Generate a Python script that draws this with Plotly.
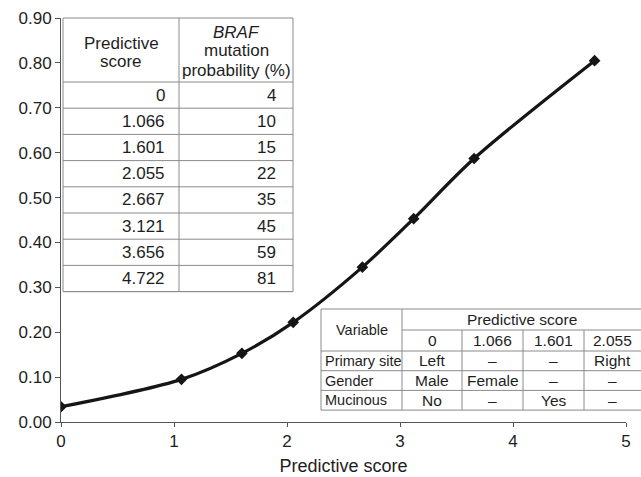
import plotly.graph_objects as go

# ---------------- data ----------------
scores = [0, 1.066, 1.601, 2.055, 2.667, 3.121, 3.656, 4.722]
probs = [0.034, 0.095, 0.153, 0.222, 0.345, 0.453, 0.587, 0.805]

score_labels = ["0", "1.066", "1.601", "2.055", "2.667", "3.121", "3.656", "4.722"]
prob_pct = ["4", "10", "15", "22", "35", "45", "59", "81"]

var_names = ["Primary site", "Gender", "Mucinous"]
var_cols = ["0", "1.066", "1.601", "2.055"]
var_cells = [["Left", "–", "–", "Right"],
             ["Male", "Female", "–", "–"],
             ["No", "–", "Yes", "–"]]

x_ticks = [0, 1, 2, 3, 4, 5]
y_ticks = [0.0, 0.1, 0.2, 0.3, 0.4, 0.5, 0.6, 0.7, 0.8, 0.9]

# ---------------- layout constants ----------------
W, H = 641, 477
PL, PR, PT, PB = 61, 626, 18, 422  # plot area in pixels
ML, MT, MR, MB = PL, PT, W - PR, H - PB
PW, PH = PR - PL, PB - PT
FONT = "Liberation Sans, Arial, sans-serif"
TXT = "#1e1e1e"
GRID = "#8a8a8a"


def px(x):
    return (x - PL) / PW


def py(y):
    return (PB - y) / PH


shapes = []
annotations = []


def hline(x0, x1, y):
    shapes.append(dict(type="line", xref="paper", yref="paper",
                       x0=px(x0), x1=px(x1), y0=py(y), y1=py(y),
                       line=dict(color=GRID, width=1)))


def vline(x, y0, y1):
    shapes.append(dict(type="line", xref="paper", yref="paper",
                       x0=px(x), x1=px(x), y0=py(y0), y1=py(y1),
                       line=dict(color=GRID, width=1)))


def text(s, x, y, size, xanchor="center"):
    annotations.append(dict(text=s, xref="paper", yref="paper",
                            x=px(x), y=py(y), xanchor=xanchor, yanchor="middle",
                            showarrow=False, font=dict(family=FONT, size=size, color=TXT)))


# ---- top-left table ----
t1_left, t1_mid, t1_right = 63, 179, 293
t1_top, t1_head = 18, 82
t1_row = 26.2
n1 = len(score_labels)
t1_bottom = t1_head + n1 * t1_row
shapes.append(dict(type="rect", xref="paper", yref="paper",
                   x0=px(t1_left), x1=px(t1_right), y0=py(t1_bottom), y1=py(t1_top),
                   fillcolor="white", line=dict(color=GRID, width=1), layer="above"))
vline(t1_mid, t1_top, t1_bottom)
for i in range(n1 + 1):
    hline(t1_left, t1_right, t1_head + i * t1_row)
text("Predictive", (t1_left + t1_mid) / 2, 43, 17)
text("score", (t1_left + t1_mid) / 2, 62, 17)
text("<i>BRAF</i>", (t1_mid + t1_right) / 2, 32, 17)
text("mutation", (t1_mid + t1_right) / 2, 51, 17)
text("probability (%)", (t1_mid + t1_right) / 2, 70, 17)
for i in range(n1):
    yc = t1_head + (i + 0.5) * t1_row
    text(score_labels[i], t1_mid - 12, yc, 17, xanchor="right")
    text(prob_pct[i], t1_right - 15, yc, 17, xanchor="right")

# ---- bottom-right table (runs off the right edge of the picture) ----
t2_cols = [321, 402, 462, 523, 584, 645]
t2_top, t2_sub, t2_head = 309, 330, 351
t2_row = 19.7
n2 = len(var_names)
t2_bottom = t2_head + n2 * t2_row
shapes.append(dict(type="rect", xref="paper", yref="paper",
                   x0=px(t2_cols[0]), x1=px(t2_cols[-1]), y0=py(t2_bottom), y1=py(t2_top),
                   fillcolor="white", line=dict(width=0), layer="above"))
vline(t2_cols[0], t2_top, t2_bottom)
vline(t2_cols[1], t2_top, t2_bottom)
for c in t2_cols[2:-1]:
    vline(c, t2_sub, t2_bottom)
hline(t2_cols[0], t2_cols[-1], t2_top)
hline(t2_cols[1], t2_cols[-1], t2_sub)
for i in range(n2 + 1):
    hline(t2_cols[0], t2_cols[-1], t2_head + i * t2_row)
text("Variable", (t2_cols[0] + t2_cols[1]) / 2, (t2_top + t2_head) / 2, 14.5)
text("Predictive score", (t2_cols[1] + 641) / 2, (t2_top + t2_sub) / 2, 15.5)
for j, c in enumerate(var_cols):
    right = min(t2_cols[j + 2], 641)
    text(c, (t2_cols[j + 1] + right) / 2, (t2_sub + t2_head) / 2, 15.5)
for i, name in enumerate(var_names):
    yc = t2_head + (i + 0.5) * t2_row
    text(name, t2_cols[0] + 1.5, yc, 14.5, xanchor="left")
    for j, v in enumerate(var_cells[i]):
        right = min(t2_cols[j + 2], 641)
        text(v, (t2_cols[j + 1] + right) / 2, yc, 15.5)

# ---------------- figure ----------------
fig = go.Figure()
fig.add_trace(go.Scatter(
    x=scores, y=probs, mode="lines+markers",
    line=dict(color="#151515", width=3.2, shape="spline", smoothing=0.9),
    marker=dict(symbol="diamond", size=9, color="#151515"),
    showlegend=False, hoverinfo="skip"))

fig.update_layout(
    width=W, height=H,
    margin=dict(l=ML, r=MR, t=MT, b=MB, pad=0),
    paper_bgcolor="white", plot_bgcolor="white",
    font=dict(family=FONT, size=17, color=TXT),
    shapes=shapes, annotations=annotations,
    xaxis=dict(range=[0, 5], tickvals=x_ticks, ticktext=[str(v) for v in x_ticks],
               showgrid=False, zeroline=False, showline=True, linecolor="#555555", linewidth=1,
               ticks="outside", ticklen=4, tickcolor="#555555", automargin=False,
               tickfont=dict(size=17, color=TXT),
               title=dict(text="Predictive score", font=dict(size=18, color=TXT), standoff=8)),
    yaxis=dict(range=[0, 0.9], tickvals=y_ticks, ticktext=["%.2f" % v for v in y_ticks],
               showgrid=False, zeroline=False, showline=True, linecolor="#555555", linewidth=1,
               ticks="outside", ticklen=5, tickcolor="#555555", automargin=False,
               tickfont=dict(size=17, color=TXT)),
)

fig.write_html("out.html",
               config={"displayModeBar": False, "staticPlot": True},
               post_script="document.body.style.margin='0';document.body.style.overflow='hidden';")
